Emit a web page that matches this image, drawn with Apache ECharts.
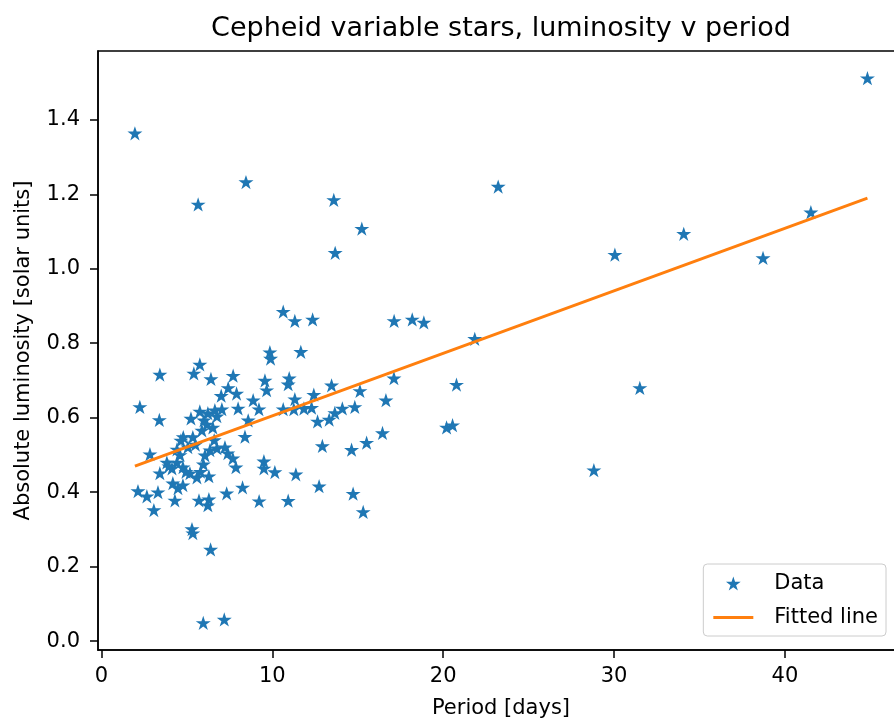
<!DOCTYPE html>
<html>
<head>
<meta charset="utf-8">
<title>Cepheid variable stars</title>
<script src="https://cdn.jsdelivr.net/npm/echarts@6/dist/echarts.min.js"></script>
<style>
  html, body { margin: 0; padding: 0; background: #fff; }
  #chart { width: 894px; height: 720px; }
</style>
</head>
<body>
<div id="chart"></div>
<script>
// period [days] of each star
var periods = [
    1.96, 5.66, 8.46, 13.60, 15.24, 13.68, 23.22, 30.05, 34.08, 38.72,
    41.52, 44.83, 31.51, 28.82, 21.85, 20.78, 20.20, 20.55, 17.13, 18.19,
    18.87, 17.12, 16.65, 16.45, 15.52, 14.64, 15.32, 14.73, 15.13, 14.83,
    14.10, 13.66, 13.33, 12.65, 13.47, 12.43, 12.30, 11.85, 11.26, 10.64,
    11.32, 10.99, 10.93, 11.67, 10.64, 11.32, 12.36, 12.93, 12.74, 11.38,
    10.93, 10.15, 9.86, 9.90, 9.57, 9.67, 8.88, 9.22, 8.00, 8.40,
    8.59, 7.71, 7.42, 7.91, 7.01, 6.41, 5.76, 5.41, 3.42, 2.25,
    3.39, 5.24, 5.76, 6.00, 6.23, 6.64, 6.76, 7.05, 6.17, 6.52,
    5.88, 4.79, 2.84, 4.65, 5.06, 5.35, 4.42, 6.35, 6.76, 7.23,
    7.40, 6.06, 5.97, 7.69, 7.87, 9.51, 9.51, 3.83, 4.42, 4.13,
    3.42, 4.77, 5.18, 5.59, 6.29, 4.18, 4.48, 4.77, 2.14, 2.66,
    3.31, 4.30, 3.07, 5.71, 6.29, 6.23, 8.26, 7.33, 9.23, 5.30,
    5.35, 6.39, 5.96, 7.19, 4.95, 5.50, 6.60, 4.60, 3.95, 5.80
];
// absolute luminosity [solar units] of each star
var luminosities = [
    1.364, 1.173, 1.233, 1.185, 1.108, 1.043, 1.221, 1.038, 1.094, 1.029,
    1.152, 1.512, 0.680, 0.459, 0.812, 0.689, 0.574, 0.580, 0.860, 0.864,
    0.856, 0.706, 0.647, 0.559, 0.533, 0.514, 0.347, 0.396, 0.672, 0.629,
    0.625, 0.613, 0.595, 0.590, 0.687, 0.662, 0.627, 0.625, 0.623, 0.623,
    0.650, 0.706, 0.690, 0.777, 0.885, 0.860, 0.864, 0.524, 0.416, 0.448,
    0.377, 0.454, 0.776, 0.759, 0.700, 0.674, 0.647, 0.623, 0.625, 0.549,
    0.593, 0.713, 0.680, 0.665, 0.659, 0.704, 0.743, 0.719, 0.716, 0.629,
    0.594, 0.598, 0.617, 0.593, 0.612, 0.620, 0.604, 0.623, 0.582, 0.574,
    0.566, 0.548, 0.502, 0.539, 0.521, 0.548, 0.515, 0.513, 0.518, 0.521,
    0.505, 0.499, 0.475, 0.491, 0.467, 0.483, 0.464, 0.480, 0.480, 0.464,
    0.451, 0.467, 0.451, 0.440, 0.443, 0.424, 0.411, 0.419, 0.403, 0.389,
    0.400, 0.378, 0.352, 0.378, 0.381, 0.365, 0.413, 0.397, 0.376, 0.301,
    0.290, 0.246, 0.049, 0.058, 0.455, 0.528, 0.540, 0.500, 0.470, 0.455
];
// ends of the fitted line
var fitPeriods = [1.96, 44.83];
var fitLuminosities = [0.470, 1.190];

var xTicks = [0, 10, 20, 30, 40];
var yTicks = [0, 0.2, 0.4, 0.6, 0.8, 1.0, 1.2, 1.4];

var starPath = 'path://M0,-100L22.45,-30.9L95.1,-30.9L36.3,11.8L58.8,80.9L0,38.2L-58.8,80.9L-36.3,11.8L-95.1,-30.9L-22.45,-30.9Z';

(function () {
    var chart = echarts.init(document.getElementById('chart'));

    var points = [];
    for (var i = 0; i < periods.length; i++) {
        points.push([periods[i], luminosities[i]]);
    }
    var fit = [];
    for (var j = 0; j < fitPeriods.length; j++) {
        fit.push([fitPeriods[j], fitLuminosities[j]]);
    }

    var font = 'DejaVu Sans';

    var option = {
        backgroundColor: '#fff',
        animation: false,
        title: {
            text: 'Cepheid variable stars, luminosity v period',
            left: 496,
            top: 10,
            textAlign: 'center',
            textStyle: { fontFamily: font, fontSize: 27, fontWeight: 'normal', color: '#000' }
        },
        // the right spine falls just outside the picture, as in the original crop
        grid: {
            left: 98,
            top: 51,
            width: 806,
            height: 599,
            show: true,
            borderColor: '#000',
            borderWidth: 1.5,
            containLabel: false,
            outerBoundsMode: 'none'
        },
        legend: {
            orient: 'vertical',
            right: 8,
            bottom: 84,
            padding: [9, 8, 8, 10],
            itemWidth: 40,
            itemHeight: 14,
            itemGap: 13,
            backgroundColor: 'rgba(255,255,255,0.8)',
            borderColor: '#cccccc',
            borderWidth: 1,
            borderRadius: 4,
            textStyle: { fontFamily: font, fontSize: 21, color: '#000', padding: [0, 0, 0, 16] },
            data: [
                { name: 'Data', icon: starPath },
                { name: 'Fitted line', icon: 'path://M0,0H40V3H0Z' }
            ]
        },
        xAxis: {
            type: 'value',
            min: -0.2,
            max: 46.97,
            name: 'Period [days]',
            nameLocation: 'middle',
            nameGap: 48,
            nameTextStyle: { fontFamily: font, fontSize: 21, color: '#000' },
            splitLine: { show: false },
            axisLine: { show: true, onZero: false, lineStyle: { color: '#000', width: 1.5 } },
            axisTick: { show: true, length: 8, lineStyle: { color: '#000', width: 1.5 }, customValues: xTicks },
            axisLabel: { margin: 16, fontFamily: font, fontSize: 21, color: '#000', customValues: xTicks }
        },
        yAxis: {
            type: 'value',
            min: -0.024,
            max: 1.585,
            name: 'Absolute luminosity [solar units]',
            nameLocation: 'middle',
            nameGap: 64,
            nameRotate: 90,
            nameTextStyle: { fontFamily: font, fontSize: 21, color: '#000' },
            splitLine: { show: false },
            axisLine: { show: true, onZero: false, lineStyle: { color: '#000', width: 1.5 } },
            axisTick: { show: true, length: 8, lineStyle: { color: '#000', width: 1.5 }, customValues: yTicks },
            axisLabel: {
                margin: 18, fontFamily: font, fontSize: 21, color: '#000', customValues: yTicks,
                formatter: function (v) { return v.toFixed(1); }
            }
        },
        series: [
            {
                name: 'Data',
                type: 'scatter',
                symbol: starPath,
                symbolSize: 15,
                symbolKeepAspect: true,
                itemStyle: { color: '#1f77b4', opacity: 1 },
                data: points
            },
            {
                name: 'Fitted line',
                type: 'line',
                symbol: 'none',
                lineStyle: { color: '#ff7f0e', width: 3 },
                itemStyle: { color: '#ff7f0e' },
                data: fit
            }
        ]
    };

    chart.setOption(option);
})();
</script>
</body>
</html>
